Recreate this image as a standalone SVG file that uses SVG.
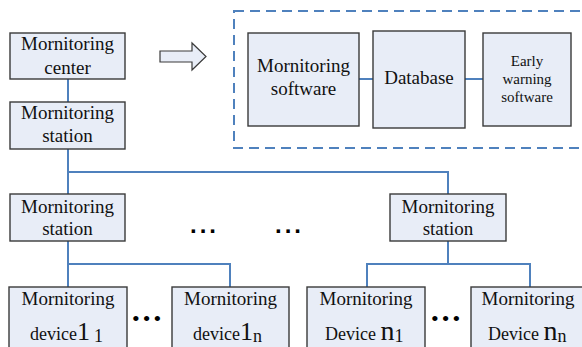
<svg xmlns="http://www.w3.org/2000/svg" width="582" height="347" viewBox="0 0 582 347" font-family="'Liberation Serif', 'Times New Roman', serif">
<style>
text{font-family:'Liberation Serif','Times New Roman',serif;fill:#111}
.box{fill:#e8edf7;stroke:#3a3a3a;stroke-width:1.4}
.ln{fill:none;stroke:#4f81bd;stroke-width:2}
.t{font-size:19px;text-anchor:middle}
.s{font-size:18px}
.sm{font-size:15px;text-anchor:middle}
.dots{font-family:'Liberation Sans',Arial,sans-serif;font-weight:bold;font-size:24px;fill:#000;letter-spacing:3px}
.bul{font-size:22px;fill:#000;letter-spacing:3px}
</style>
<rect width="582" height="347" fill="#fff"/>
<g id="connectors">
<line class="ln" x1="68" y1="79" x2="68" y2="102"/>
<polyline class="ln" points="68,149 68,172 448,172 448,194"/>
<line class="ln" x1="68" y1="172" x2="68" y2="194"/>
<polyline class="ln" points="68,241 68,264 230,264 230,287"/>
<line class="ln" x1="68" y1="264" x2="68" y2="287"/>
<polyline class="ln" points="448,241 448,264"/>
<polyline class="ln" points="367,287 367,264 530,264 530,287"/>
<line class="ln" x1="359" y1="79" x2="373" y2="79"/>
<line class="ln" x1="465" y1="79" x2="483" y2="79"/>
</g>
<g id="software-group">
<rect x="234" y="11" width="360" height="137" fill="none" stroke="#4f81bd" stroke-width="2" stroke-dasharray="10 6"/>
</g>
<g id="arrow">
<polygon points="160,51 192,51 192,43 206,56.5 192,70 192,62 160,62" fill="#e8edf7" stroke="#3a3a3a" stroke-width="1.2"/>
</g>
<g id="center">
<rect class="box" x="10" y="33" width="115" height="46"/>
<text class="t" x="67.5" y="50">Mornitoring</text>
<text class="t" x="67.5" y="74">center</text>
</g>
<g id="station0">
<rect class="box" x="10" y="102" width="115" height="47"/>
<text class="t" x="67.5" y="119">Mornitoring</text>
<text class="t" x="67.5" y="142">station</text>
</g>
<g id="station1">
<rect class="box" x="10" y="194" width="115" height="47"/>
<text class="t" x="67.5" y="213">Mornitoring</text>
<text class="t" x="67.5" y="235">station</text>
</g>
<g id="station-n">
<rect class="box" x="390" y="194" width="116" height="47"/>
<text class="t" x="448" y="213">Mornitoring</text>
<text class="t" x="448" y="235">station</text>
</g>
<g id="ellipsis">
<text class="dots" x="190" y="233">...</text>
<text class="dots" x="275" y="233">...</text>
<text class="bul" x="132" y="326">•••</text>
<text class="bul" x="431" y="326">•••</text>
</g>
<g id="msoft">
<rect class="box" x="248" y="33" width="111" height="93"/>
<text class="t" x="303.5" y="72">Mornitoring</text>
<text class="t" x="303.5" y="95">software</text>
</g>
<g id="database">
<rect class="box" x="373" y="31" width="92" height="97"/>
<text class="t" x="419" y="84">Database</text>
</g>
<g id="early">
<rect class="box" x="483" y="33" width="88" height="93"/>
<text class="sm" x="527" y="66">Early</text>
<text class="sm" x="527" y="84">warning</text>
<text class="sm" x="527" y="102">software</text>
</g>
<g id="device11">
<rect class="box" x="9" y="287" width="118" height="70"/>
<text class="t" x="68" y="305">Mornitoring</text>
<text class="s" x="30" y="340">device<tspan font-size="26">1</tspan><tspan dx="4" dy="2">1</tspan></text>
</g>
<g id="device1n">
<rect class="box" x="172" y="287" width="117" height="70"/>
<text class="t" x="230.5" y="305">Mornitoring</text>
<text class="s" x="193" y="340">device<tspan font-size="26">1</tspan><tspan dy="2">n</tspan></text>
</g>
<g id="devicen1">
<rect class="box" x="307" y="287" width="118" height="70"/>
<text class="t" x="366" y="305">Mornitoring</text>
<text class="s" x="325" y="340">Device <tspan font-size="28">n</tspan><tspan dy="2">1</tspan></text>
</g>
<g id="devicenn">
<rect class="box" x="471" y="287" width="118" height="70"/>
<text class="t" x="528" y="305">Mornitoring</text>
<text class="s" x="488" y="340">Device <tspan font-size="28">n</tspan><tspan dy="2">n</tspan></text>
</g>
</svg>
